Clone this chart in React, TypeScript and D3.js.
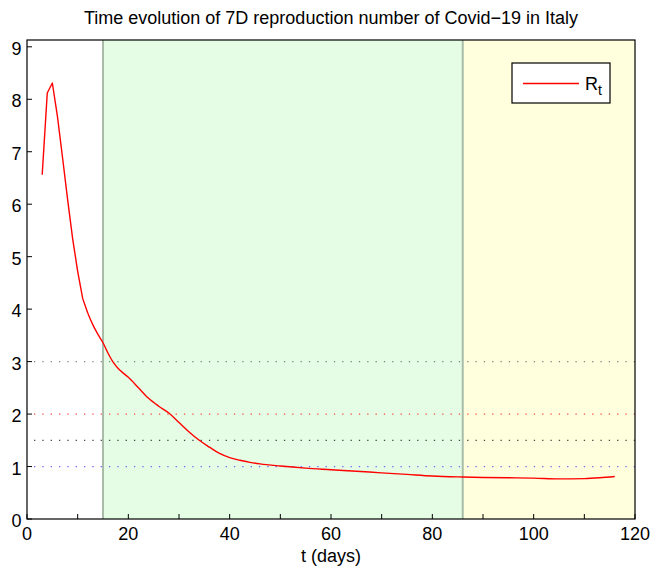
import React from "react";
import * as d3 from "d3";

const days = [3,4,5,6,7,8,9,10,11,12,13,14,15,16,17,18,19,20,22,24,26,28,30,32,34,36,38,40,42,44,46,50,55,60,65,70,75,80,86,90,95,100,105,110,113,116];
const rt = [6.56,8.12,8.31,7.68,6.9,6.1,5.35,4.72,4.2,3.92,3.7,3.52,3.36,3.16,2.99,2.87,2.78,2.7,2.5,2.3,2.15,2.02,1.84,1.66,1.5,1.37,1.25,1.17,1.12,1.08,1.05,1.01,0.97,0.94,0.91,0.88,0.85,0.82,0.8,0.79,0.785,0.78,0.765,0.77,0.785,0.81];

const phaseStarts = [15, 86];
const phaseEnd = 120;
const thresholds = [3, 2, 1.5, 1];
const thresholdColors = ["#6e6e6e", "#ff2a2a", "#2a2a2a", "#5050ff"];
const xTicks = [0,10,20,30,40,50,60,70,80,90,100,110,120];
const xLabels = [0,20,40,60,80,100,120];
const yTicks = [0,1,2,3,4,5,6,7,8,9];

const W = 652, H = 567;
const L = 27, R = 635, T = 40, B = 519;
const font = "'Liberation Sans', Arial, Helvetica, sans-serif";

export default function App() {
  const x = d3.scaleLinear().domain([0, 120]).range([L, R]);
  const y = d3.scaleLinear().domain([0, 9]).range([B, 46.8]);
  const split = 9; // index of day 12
  const idxA = d3.range(0, split + 1);
  const idxB = d3.range(split, days.length);
  const lineLin = d3.line<number>().x((i) => x(days[i])).y((i) => y(rt[i]));
  const lineSmooth = d3.line<number>().x((i) => x(days[i])).y((i) => y(rt[i])).curve(d3.curveMonotoneX);
  return (
    <svg width={W} height={H} style={{ position: "absolute", left: 0, top: 0, background: "#fff" }} fontFamily={font}>
      <rect x={x(phaseStarts[0])} y={T} width={x(phaseStarts[1]) - x(phaseStarts[0])} height={B - T} fill="#e5fde5" />
      <rect x={x(phaseStarts[1])} y={T} width={x(phaseEnd) - x(phaseStarts[1])} height={B - T} fill="#ffffdd" />
      {phaseStarts.map((p) => (
        <line key={p} x1={x(p)} x2={x(p)} y1={T} y2={B} stroke="#a8bca8" strokeWidth={2} />
      ))}
      {thresholds.map((t, i) => (
        <line key={t} x1={L} x2={R} y1={y(t)} y2={y(t)} stroke={thresholdColors[i]} strokeWidth={1.2} strokeDasharray="1.3 7.03" strokeDashoffset={-7} opacity={0.85} />
      ))}
      <path d={lineLin(idxA) || ""} fill="none" stroke="#ff0000" strokeWidth={1.4} strokeLinejoin="round" />
      <path d={lineSmooth(idxB) || ""} fill="none" stroke="#ff0000" strokeWidth={1.4} strokeLinejoin="round" />
      <rect x={L} y={T} width={R - L} height={B - T} fill="none" stroke="#000" strokeWidth={1.2} />
      {xTicks.map((t) => (
        <line key={"xt" + t} x1={x(t)} x2={x(t)} y1={B} y2={B - 5} stroke="#000" strokeWidth={1} />
      ))}
      {xLabels.map((t) => (
        <text key={"xl" + t} x={x(t)} y={539.5} textAnchor="middle" fontSize={18} fill="#000">{t}</text>
      ))}
      {yTicks.map((t) => (
        <g key={"yt" + t}>
          <line x1={L} x2={L + 5} y1={y(t)} y2={y(t)} stroke="#000" strokeWidth={1} />
          <text x={21.5} y={y(t) + 8} textAnchor="end" fontSize={18} fill="#000">{t}</text>
        </g>
      ))}
      <text x={(L + R) / 2} y={561.5} textAnchor="middle" fontSize={18} fill="#000">t (days)</text>
      <text x={331} y={24} textAnchor="middle" fontSize={18} fill="#000">Time evolution of 7D reproduction number of Covid−19 in Italy</text>
      <rect x={512} y={63} width={98} height={40} fill="#fff" stroke="#000" strokeWidth={1.2} />
      <path d="M523,83.5H579" fill="none" stroke="rgb(255,0,0)" strokeWidth={1.4} />
      <text x={585} y={90} fontSize={18} fill="#000">R<tspan fontSize={14} dy={5}>t</tspan></text>
    </svg>
  );
}
